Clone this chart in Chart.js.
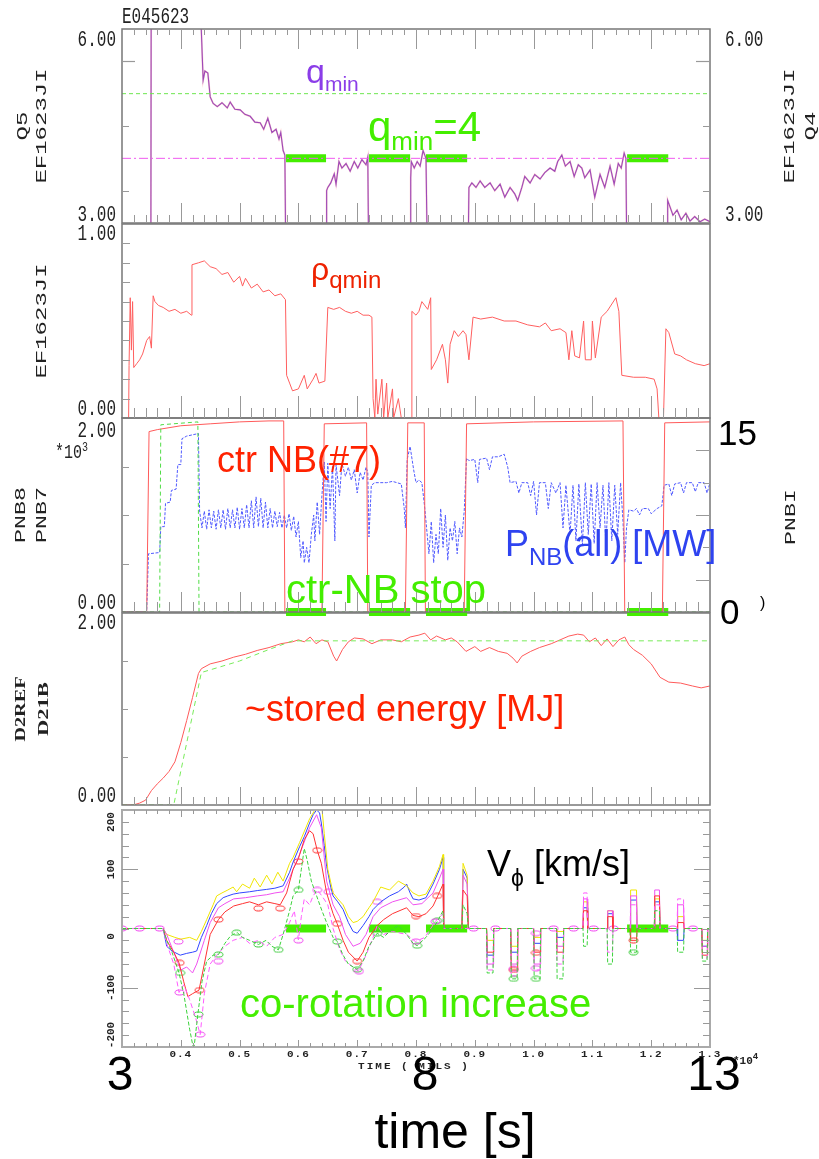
<!DOCTYPE html>
<html>
<head>
<meta charset="utf-8">
<script src="https://cdn.jsdelivr.net/npm/chart.js@4.4.0/dist/chart.umd.min.js"></script>
<style>
  body { margin: 0; background: #fff; }
  #wrap { position: relative; width: 819px; height: 1159px; overflow: hidden; background: #fff; }
  #wrap canvas { position: absolute; left: 0; }
  .lab { position: absolute; white-space: nowrap; font-family: "Liberation Sans", Arial, sans-serif; line-height: 1; }
  .lab span { position: relative; }
  .mono { position: absolute; white-space: nowrap; font-family: "Liberation Mono", monospace; color: #222; line-height: 1; transform-origin: 0 0; }
</style>
</head>
<body>
<div id="wrap">
  <div class="mono" style="left:122px;top:7px;font-size:16px;transform:scaleY(1.35)">E045623</div>
  <div class="mono" style="left:55px;top:444px;font-size:15px;transform:scaleY(1.3)">*10<span style="font-size:10px;position:relative;top:-6px">3</span></div>
  <div class="mono" style="left:733px;top:1056px;font-size:11px;font-weight:bold">*10<span style="font-size:9px;position:relative;top:-5px">4</span></div>

  <div class="lab" style="left:306px;top:54px;font-size:34px;color:#8b3de8">q<span style="font-size:21px;top:8px">min</span></div>
  <div class="lab" style="left:368px;top:106px;font-size:42px;color:#44ee00">q<span style="font-size:26px;top:9px">min</span>=4</div>
  <div class="lab" style="left:311px;top:253px;font-size:32px;color:#ee2200">ρ<span style="font-size:24px;top:8px">qmin</span></div>
  <div class="lab" style="left:217px;top:442px;font-size:36px;color:#ff2200">ctr NB(#7)</div>
  <div class="lab" style="left:286px;top:569px;font-size:40px;color:#44ee00">ctr-NB stop</div>
  <div class="lab" style="left:505px;top:526px;font-size:36px;color:#2e43f0">P<span style="font-size:24px;top:9px">NB</span>(all) [MW]</div>
  <div class="lab" style="left:245px;top:691px;font-size:36px;color:#ff2200">~stored energy [MJ]</div>
  <div class="lab" style="left:487px;top:846px;font-size:36px;color:#000">V<span style="font-size:23px;top:10px">ϕ</span> [km/s]</div>
  <div class="lab" style="left:240px;top:983px;font-size:40px;color:#44ee00">co-rotation increase</div>
</div>
<script>
// time axis [s]
const tMin = 3, tMax = 13;
const secTicks = [3, 8, 13];
const secLabels = ['3', '8', '13'];
const milsTicks = [4, 5, 6, 7, 8, 9, 10, 11, 12, 13];
const milsLabels = ['0.4', '0.5', '0.6', '0.7', '0.8', '0.9', '1.0', '1.1', '1.2', '1.3'];

// ctr-NB stop windows (green bars)
const stopWindows = [[5.79, 6.47], [7.20, 7.90], [8.17, 8.87], [11.59, 12.29]];

// panel 1: q_min
const qRefLevels = [5.0, 4.0];
const qmin = [[3.0,2],[3.49,2],[3.5,9],[4.33,9],[4.34,6.2],[4.38,5.21],[4.41,5.35],[4.46,5.32],[4.5,4.95],[4.55,4.85],
  [4.62,4.8],[4.7,4.86],[4.79,4.78],[4.84,4.87],[4.92,4.76],[5.01,4.75],[5.09,4.68],[5.18,4.65],[5.26,4.56],[5.35,4.55],
  [5.41,4.45],[5.48,4.62],[5.55,4.4],[5.62,4.45],[5.67,4.3],[5.7,4.4],[5.74,4.12],[5.77,4.05],[5.79,2],[6.47,2],
  [6.48,3.5],[6.5,3.55],[6.55,3.62],[6.61,3.76],[6.64,3.6],[6.69,3.95],[6.74,3.85],[6.81,3.92],[6.88,3.8],[6.95,3.95],
  [7.01,3.85],[7.08,3.98],[7.15,3.9],[7.18,4.02],[7.2,2],[7.9,2],[7.91,3.7],[7.92,3.95],[7.97,3.85],[8.02,3.95],
  [8.07,3.88],[8.12,4.12],[8.17,4.0],[8.2,2],[8.88,2],[8.9,3.55],[8.95,3.62],[9.02,3.55],[9.09,3.65],[9.17,3.55],
  [9.26,3.62],[9.34,3.5],[9.43,3.6],[9.51,3.4],[9.6,3.55],[9.68,3.45],[9.73,3.35],[9.8,3.55],[9.85,3.72],[9.94,3.62],
  [10.02,3.75],[10.11,3.68],[10.19,3.78],[10.28,3.85],[10.36,3.8],[10.41,3.95],[10.48,4.05],[10.54,3.88],[10.62,3.95],
  [10.69,3.72],[10.76,3.9],[10.82,3.85],[10.87,3.7],[10.96,3.82],[11.04,3.4],[11.13,3.75],[11.21,3.55],[11.3,3.88],
  [11.37,3.6],[11.44,3.92],[11.49,3.85],[11.54,4.08],[11.57,4.0],[11.59,2],[12.27,2],[12.28,3.35],[12.32,3.25],
  [12.37,3.12],[12.44,3.2],[12.51,3.05],[12.59,3.15],[12.66,3.03],[12.74,3.1],[12.83,3.02],[12.91,3.06],[13.0,3.02]];

// panel 2: rho at q_min
const rhoQmin = [[3.0,-0.1],[3.11,-0.1],[3.12,0.27],[3.14,0.62],[3.16,0.35],[3.18,0.6],[3.2,0.26],[3.25,0.28],[3.3,0.3],
  [3.35,0.33],[3.42,0.4],[3.47,0.42],[3.5,0.36],[3.53,0.63],[3.56,0.6],[3.62,0.58],[3.7,0.57],[3.8,0.55],[3.9,0.56],
  [4.0,0.54],[4.1,0.55],[4.18,0.53],[4.19,0.79],[4.3,0.8],[4.4,0.81],[4.5,0.78],[4.6,0.77],[4.7,0.74],[4.8,0.75],
  [4.9,0.7],[5.0,0.73],[5.05,0.68],[5.1,0.72],[5.2,0.67],[5.3,0.69],[5.4,0.65],[5.5,0.66],[5.6,0.63],[5.7,0.64],
  [5.78,0.61],[5.8,0.22],[5.85,0.18],[5.9,0.14],[6.0,0.15],[6.1,0.22],[6.15,0.15],[6.25,0.2],[6.3,0.23],[6.35,0.18],
  [6.45,0.19],[6.5,0.57],[6.6,0.56],[6.7,0.57],[6.8,0.55],[6.9,0.54],[7.0,0.55],[7.1,0.53],[7.2,0.53],[7.25,0.52],
  [7.27,0.1],[7.3,0.0],[7.32,0.2],[7.35,0.02],[7.42,0.2],[7.45,0.0],[7.5,0.18],[7.52,0.0],[7.6,0.15],[7.62,0.0],
  [7.7,0.1],[7.75,0.0],[7.85,-0.1],[7.92,-0.1],[7.93,0.55],[8.0,0.53],[8.05,0.55],[8.1,0.6],[8.2,0.56],[8.25,0.62],
  [8.26,0.25],[8.35,0.3],[8.45,0.38],[8.5,0.3],[8.54,0.18],[8.58,0.38],[8.65,0.45],[8.72,0.42],[8.8,0.45],[8.85,0.43],
  [8.9,0.3],[8.97,0.52],[9.1,0.51],[9.3,0.52],[9.5,0.5],[9.7,0.5],[9.9,0.48],[10.1,0.47],[10.2,0.49],[10.3,0.45],
  [10.45,0.46],[10.55,0.44],[10.6,0.3],[10.65,0.45],[10.7,0.32],[10.78,0.31],[10.85,0.5],[10.88,0.3],[10.98,0.3],
  [11.0,0.5],[11.05,0.31],[11.15,0.52],[11.25,0.55],[11.4,0.62],[11.45,0.55],[11.5,0.22],[11.7,0.21],[11.9,0.21],
  [12.05,0.2],[12.1,0.15],[12.15,-0.1],[12.2,-0.1],[12.25,0.46],[12.3,0.44],[12.4,0.33],[12.5,0.32],[12.6,0.3],
  [12.75,0.28],[12.9,0.27],[13.0,0.28]];

// panel 3: beam power (PNB7/PNB8 in *1e3, PNBI in MW)
const pnb7 = [[3.0,0],[3.42,0],[3.46,1.86],[3.6,1.88],[4.0,1.92],[4.5,1.94],[5.0,1.96],[5.5,1.97],[5.75,1.97],[5.77,0],
  [6.4,0],[6.44,1.94],[7.16,1.95],[7.18,0],[7.82,0],[7.86,1.95],[8.14,1.95],[8.16,0],[8.82,0],[8.86,1.94],[10.0,1.96],
  [11.52,1.97],[11.55,0],[12.19,0],[12.23,1.95],[13.0,1.96]];
const pnb8 = [[3.0,0],[3.64,0],[3.66,1.93],[4.29,1.96],[4.31,0],[13.0,0]];
const pnbAll = [[3.0,0],[3.42,0],[3.45,4.5],[3.64,4.6],[3.66,6.6],[3.72,6.6],[3.74,8.4],[3.82,8.5],[3.84,9.4],[3.92,9.5],
  [3.95,11.4],[4.0,11.4],[4.02,13.4],[4.1,13.6],[4.3,13.8],[4.32,7.8],[4.36,6.5],[4.4,7.8],[4.44,6.4],[4.48,7.9],
  [4.52,6.5],[4.56,7.8],[4.6,6.4],[4.64,7.9],[4.68,6.5],[4.72,7.9],[4.76,6.4],[4.8,8.0],[4.84,6.5],[4.88,7.9],
  [4.92,6.5],[4.96,8.1],[5.0,6.4],[5.04,8.0],[5.08,6.5],[5.12,8.3],[5.16,6.5],[5.2,8.6],[5.24,6.5],[5.28,8.9],
  [5.32,6.6],[5.36,8.8],[5.4,6.5],[5.44,8.5],[5.48,6.5],[5.52,8.0],[5.56,6.5],[5.6,7.8],[5.64,6.6],[5.68,7.7],
  [5.72,6.5],[5.76,7.5],[5.8,6.5],[5.84,7.6],[5.88,6.3],[5.92,7.4],[5.96,5.8],[6.0,7.0],[6.04,4.2],[6.08,5.5],
  [6.1,3.8],[6.14,5.0],[6.18,3.8],[6.22,6.0],[6.26,7.5],[6.28,5.5],[6.32,8.5],[6.36,6.0],[6.4,9.0],[6.44,11.6],
  [6.47,7.0],[6.5,11.5],[6.54,8.0],[6.58,11.3],[6.62,5.5],[6.64,11.4],[6.7,9.0],[6.74,11.5],[6.8,10.5],[6.85,11.2],
  [6.9,10.2],[6.95,11.0],[7.0,9.2],[7.05,10.8],[7.1,10.2],[7.15,11.2],[7.18,10.8],[7.2,5.8],[7.24,9.8],[7.3,10.0],
  [7.5,10.0],[7.6,10.1],[7.75,9.9],[7.8,8.0],[7.82,6.5],[7.85,11.8],[7.9,12.8],[7.96,11.0],[8.0,10.0],[8.05,10.2],
  [8.1,10.0],[8.15,8.0],[8.18,6.5],[8.22,4.5],[8.26,7.0],[8.3,3.8],[8.34,6.0],[8.38,4.5],[8.42,8.0],[8.46,5.0],
  [8.5,7.5],[8.54,4.0],[8.58,6.5],[8.62,5.5],[8.66,7.0],[8.7,4.5],[8.74,6.5],[8.78,5.8],[8.82,7.8],[8.86,11.9],
  [8.9,11.7],[9.0,11.8],[9.05,10.0],[9.08,11.8],[9.2,11.9],[9.25,11.0],[9.3,12.0],[9.4,12.0],[9.5,12.2],[9.56,11.2],
  [9.6,10.0],[9.7,10.1],[9.75,9.2],[9.8,10.0],[9.9,10.0],[9.95,9.0],[10.0,10.1],[10.05,7.5],[10.1,10.0],[10.2,10.0],
  [10.25,8.0],[10.3,10.0],[10.38,9.2],[10.45,10.0],[10.5,6.5],[10.55,9.8],[10.62,6.0],[10.67,9.8],[10.72,5.5],
  [10.77,9.9],[10.83,5.2],[10.88,10.0],[10.93,6.0],[10.98,9.9],[11.03,5.3],[11.08,10.0],[11.13,6.5],[11.18,9.8],
  [11.23,5.2],[11.28,10.0],[11.33,5.5],[11.38,9.8],[11.43,6.0],[11.48,10.0],[11.52,7.0],[11.55,3.8],[11.58,6.5],
  [11.62,7.9],[11.7,7.8],[11.75,8.0],[11.8,7.5],[11.85,8.0],[11.95,8.0],[12.0,7.6],[12.1,8.0],[12.18,8.2],[12.22,9.8],
  [12.3,9.9],[12.35,9.0],[12.4,9.9],[12.5,10.0],[12.55,9.2],[12.6,10.0],[12.7,10.0],[12.75,9.3],[12.8,10.0],
  [12.9,10.0],[12.95,9.2],[13.0,10.0]];

// panel 4: stored energy [MJ]
const d21b = [[3.0,0],[3.19,0],[3.3,0.02],[3.4,0.05],[3.5,0.15],[3.6,0.22],[3.7,0.28],[3.8,0.35],[3.9,0.45],[4.0,0.65],
  [4.1,0.88],[4.2,1.12],[4.3,1.37],[4.35,1.42],[4.5,1.47],[4.7,1.5],[4.9,1.54],[5.1,1.57],[5.3,1.61],[5.5,1.64],
  [5.7,1.68],[5.9,1.7],[6.0,1.72],[6.1,1.7],[6.2,1.75],[6.3,1.68],[6.4,1.72],[6.5,1.7],[6.6,1.55],[6.65,1.5],
  [6.75,1.62],[6.85,1.7],[6.95,1.74],[7.1,1.73],[7.25,1.68],[7.4,1.72],[7.6,1.72],[7.75,1.7],[7.9,1.75],[8.05,1.77],
  [8.15,1.79],[8.25,1.72],[8.35,1.76],[8.5,1.72],[8.6,1.74],[8.7,1.7],[8.85,1.6],[9.0,1.65],[9.1,1.6],[9.25,1.64],
  [9.4,1.6],[9.55,1.58],[9.65,1.53],[9.72,1.48],[9.8,1.55],[9.95,1.6],[10.1,1.64],[10.3,1.68],[10.45,1.72],
  [10.6,1.76],[10.75,1.78],[10.85,1.77],[10.95,1.7],[11.05,1.74],[11.15,1.66],[11.25,1.73],[11.35,1.65],[11.45,1.72],
  [11.55,1.75],[11.62,1.67],[11.7,1.62],[11.85,1.56],[12.0,1.47],[12.15,1.33],[12.3,1.28],[12.5,1.27],[12.7,1.24],
  [12.85,1.22],[13.0,1.24]];
const d2ref = [[3.0,0],[3.88,0],[4.35,1.38],[5.0,1.5],[5.5,1.62],[5.9,1.71],[13.0,1.71]];

// panel 5: toroidal rotation [km/s], six chords
const vBlue = [[3.0,0],[3.7,0],[3.76,-30],[3.85,-38],[3.99,-45],[4.1,-42],[4.2,-40],[4.27,-38],[4.35,-15],[4.44,5],
  [4.52,25],[4.61,42],[4.72,52],[4.8,55],[4.89,58],[5.0,60],[5.17,62],[5.3,64],[5.46,66],[5.6,68],[5.74,72],[5.85,95],
  [5.91,112],[6.02,138],[6.1,155],[6.19,178],[6.25,192],[6.31,200],[6.36,195],[6.39,178],[6.44,140],[6.48,105],
  [6.55,70],[6.59,55],[6.67,45],[6.76,32],[6.85,10],[6.93,-5],[7.0,-8],[7.1,5],[7.2,20],[7.27,32],[7.4,45],[7.55,55],
  [7.7,62],[7.8,70],[7.84,75],[7.9,60],[7.95,50],[8.05,48],[8.17,52],[8.29,75],[8.4,100],[8.46,120],[8.47,0],[8.78,0],
  [8.8,100],[8.87,85],[8.89,0]];
const vYellow = [[3.0,0],[3.7,0],[3.76,-10],[3.9,-15],[4.0,-18],[4.15,-15],[4.27,-20],[4.35,-5],[4.44,15],[4.55,40],
  [4.61,55],[4.7,60],[4.8,65],[4.89,70],[4.95,62],[5.05,75],[5.17,68],[5.25,85],[5.35,70],[5.46,90],[5.55,75],
  [5.65,95],[5.74,80],[5.85,110],[5.91,120],[6.02,145],[6.19,185],[6.31,205],[6.39,215],[6.44,160],[6.5,100],[6.59,60],
  [6.67,50],[6.76,40],[6.85,20],[6.93,10],[7.0,12],[7.1,20],[7.2,35],[7.27,45],[7.4,70],[7.55,65],[7.7,80],[7.84,72],
  [7.95,60],[8.05,55],[8.17,58],[8.29,80],[8.4,105],[8.46,125],[8.47,0],[8.78,0],[8.8,110],[8.87,90],[8.89,0]];
const vRed = [[3.0,0],[3.7,0],[3.76,-20],[3.88,-40],[3.97,-58],[4.05,-90],[4.12,-115],[4.2,-110],[4.31,-104],[4.4,-60],
  [4.5,-10],[4.64,15],[4.75,28],[4.9,38],[5.05,42],[5.17,45],[5.32,40],[5.46,45],[5.6,42],[5.69,40],[5.8,60],[5.91,100],
  [6.0,118],[6.1,150],[6.19,165],[6.25,160],[6.32,132],[6.39,110],[6.48,60],[6.59,25],[6.66,8],[6.76,-20],[6.85,-40],
  [7.0,-55],[7.1,-40],[7.2,-15],[7.34,5],[7.45,15],[7.6,25],[7.84,35],[7.95,22],[8.05,20],[8.17,25],[8.29,38],
  [8.37,55],[8.46,75],[8.47,0],[8.78,0],[8.8,65],[8.87,55],[8.89,0]];
const vMagenta = [[3.0,0],[3.7,0],[3.76,-10],[3.9,-45],[4.0,-70],[4.1,-65],[4.2,-75],[4.27,-60],[4.4,-20],[4.5,10],
  [4.64,35],[4.75,42],[4.9,50],[5.1,52],[5.3,55],[5.46,57],[5.6,60],[5.74,62],[5.85,85],[5.91,100],[6.02,125],
  [6.19,170],[6.31,192],[6.39,170],[6.44,120],[6.48,80],[6.59,40],[6.7,20],[6.8,-10],[6.93,-30],[7.05,-25],[7.15,-10],
  [7.27,20],[7.4,35],[7.6,45],[7.84,52],[7.95,40],[8.1,42],[8.29,60],[8.4,85],[8.46,100],[8.47,0],[8.78,0],[8.8,90],
  [8.87,75],[8.89,0]];
const vGreen = [[3.0,0],[3.7,0],[3.76,-20],[3.85,-40],[3.97,-75],[4.05,-110],[4.15,-170],[4.22,-205],[4.29,-145],
  [4.36,-90],[4.44,-55],[4.55,-45],[4.64,-44],[4.75,-25],[4.85,-12],[4.96,-7],[5.05,-15],[5.17,-20],[5.32,-27],
  [5.45,-20],[5.55,-30],[5.66,-36],[5.74,-10],[5.85,30],[5.91,55],[6.0,65],[6.05,100],[6.1,135],[6.15,115],[6.22,80],
  [6.31,55],[6.4,30],[6.48,10],[6.59,-15],[6.66,-22],[6.76,-45],[6.85,-60],[7.0,-69],[7.1,-55],[7.2,-30],[7.34,-8],
  [7.45,-15],[7.55,-5],[7.7,5],[7.84,-10],[7.95,-25],[8.02,-29],[8.17,-15],[8.29,0],[8.37,13],[8.46,30],[8.47,0],
  [8.78,0],[8.8,40],[8.87,25],[8.89,0]];
const vPink = [[3.0,0],[3.7,0],[3.76,-25],[3.88,-60],[3.97,-108],[4.05,-95],[4.15,-120],[4.25,-150],[4.33,-179],
  [4.4,-110],[4.5,-60],[4.61,-45],[4.75,-30],[4.89,-20],[5.05,-15],[5.17,-25],[5.32,-20],[5.46,-30],[5.6,-15],
  [5.74,-10],[5.85,10],[5.93,30],[6.0,-19],[6.05,20],[6.1,50],[6.19,40],[6.25,55],[6.32,65],[6.4,55],[6.5,40],[6.59,0],
  [6.7,-35],[6.8,-55],[7.02,-72],[7.15,-45],[7.27,-15],[7.34,5],[7.45,-10],[7.6,-5],[7.84,-10],[7.99,-22],[8.15,-15],
  [8.33,12],[8.46,25],[8.47,0],[8.89,0]];

// late short rotation samples (start, end) and level per chord
const vSpikeT = [[9.20,9.32],[9.61,9.73],[10.0,10.12],[10.39,10.51],[10.84,10.92],[11.25,11.35],[11.64,11.76],[12.05,12.15],[12.44,12.56],[12.86,12.96]];
const vSpikeBlue = [-45, -40, -25, -15, 35, 25, 48, 45, -20, -30];
const vSpikeYellow = [-20, -30, -15, -5, 45, 30, 65, 50, 20, -20];
const vSpikeRed = [-40, -70, -40, -40, 30, 20, -20, 55, 10, -45];
const vSpikeMagenta = [-60, -60, -60, -30, 50, 30, 55, 65, 40, -30];
const vSpikeGreen = [-75, -85, -85, -85, -30, -60, -40, 30, -40, -55];
const vSpikePink = [-70, -80, -70, -60, 60, -40, 40, 40, 50, -50];

// circle markers on chords
const markMagenta = [[3.0,0],[3.3,0],[3.64,0],[3.96,-22],[3.98,-108],[4.33,-179],[4.64,-55],[6.0,-20],[6.32,65],[6.51,62],
  [7.03,-72],[7.34,45],[8.0,-22],[8.33,12],[8.98,0],[9.35,0],[9.66,-68],[10.04,-8],[10.04,-67],[10.34,0],[10.68,0],
  [11.02,0],[11.36,0],[12.37,0],[12.71,0]];
const markRed = [[3.98,-58],[4.32,-104],[4.64,15],[5.32,34],[5.69,34],[6.0,113],[6.32,132],[6.66,8],[7.0,-55],[8.0,21],
  [8.36,55],[9.66,-70],[10.04,-41],[11.7,-20]];
const markGreen = [[3.99,-75],[4.3,-145],[4.64,-44],[4.95,-7],[5.32,-27],[5.66,-36],[6.0,65],[6.66,-22],[7.0,-69],
  [7.34,-8],[8.02,-29],[8.36,13],[9.66,-85],[10.04,-85],[11.7,-40]];

const INK = '#222';
const wrap = document.getElementById('wrap');

function xy(pairs) { return pairs.map(([x, y]) => ({ x, y })); }
function withSpikes(pairs, levels) {
  const out = xy(pairs);
  vSpikeT.forEach(([a, b], i) => {
    out.push({ x: a, y: 0 }, { x: a + 0.01, y: levels[i] }, { x: b - 0.01, y: levels[i] }, { x: b, y: 0 });
  });
  out.push({ x: tMax, y: 0 });
  return out;
}
function bars(level) {
  const out = [];
  stopWindows.forEach(([a, b]) => out.push({ x: a, y: level }, { x: b, y: level }, { x: b + 0.001, y: null }));
  return out;
}
function hline(v) { return [{ x: tMin, y: v }, { x: tMax, y: v }]; }
function ellipse(color) {
  const c = document.createElement('canvas');
  c.width = 11; c.height = 7;
  const g = c.getContext('2d');
  g.strokeStyle = color; g.lineWidth = 1;
  g.beginPath(); g.ellipse(5.5, 3.5, 4.5, 2.5, 0, 0, Math.PI * 2); g.stroke();
  return c;
}

function line(data, color, extra) {
  return Object.assign({ data, borderColor: color, borderWidth: 1, pointRadius: 0, tension: 0 }, extra || {});
}
function barSet(level, yAxisID) {
  return { data: bars(level), yAxisID: yAxisID || 'y', borderColor: 'rgb(68,238,0)', borderWidth: 8, pointRadius: 0, borderCapStyle: 'butt', spanGaps: false, clip: false };
}
function marks(pairs, color) {
  return { data: xy(pairs), showLine: false, pointStyle: ellipse(color), pointRadius: 5, borderColor: color };
}

// drawing helpers for the frame, inward ticks and text
function frame(ctx, a, col, w) {
  ctx.strokeStyle = col; ctx.lineWidth = w;
  ctx.strokeRect(a.left, a.top, a.right - a.left, a.bottom - a.top);
}
function xTicks(ch, ctx, edge, minor, major) {
  const a = ch.chartArea, sx = ch.scales.x;
  ctx.strokeStyle = '#999'; ctx.lineWidth = 1;
  ctx.beginPath();
  for (let k = 1; k < 50; k++) {
    const px = Math.round(sx.getPixelForValue(tMin + k * 0.2)) + 0.5;
    const len = k % 5 === 0 ? major : minor;
    const y0 = edge === 'top' ? a.top : a.bottom;
    ctx.moveTo(px, y0); ctx.lineTo(px, edge === 'top' ? y0 + len : y0 - len);
  }
  ctx.stroke();
}
function yTicks(ch, ctx, id, vals, side, len) {
  const a = ch.chartArea, s = ch.scales[id];
  ctx.strokeStyle = '#999'; ctx.lineWidth = 1.2;
  ctx.beginPath();
  vals.forEach(v => {
    const py = Math.round(s.getPixelForValue(v)) + 0.5;
    const x0 = side === 'l' ? a.left : a.right;
    ctx.moveTo(x0, py); ctx.lineTo(side === 'l' ? x0 + len : x0 - len, py);
  });
  ctx.stroke();
}
function mono(ctx, s, x, y, align, opt) {
  const o = opt || {};
  ctx.save();
  ctx.translate(x, y); ctx.scale(1, o.sy || 1.4);
  ctx.font = o.font || '16px "Liberation Mono"';
  ctx.fillStyle = INK; ctx.textAlign = align; ctx.textBaseline = 'middle';
  if (o.ls) ctx.letterSpacing = o.ls;
  ctx.fillText(s, 0, 0);
  ctx.restore();
}
function vtext(ctx, s, x, y, font, stretch) {
  ctx.save();
  ctx.translate(x, y); ctx.rotate(-Math.PI / 2); ctx.scale(stretch, 1);
  ctx.font = font; ctx.fillStyle = INK; ctx.textAlign = 'center'; ctx.textBaseline = 'middle';
  ctx.fillText(s, 0, 0);
  ctx.restore();
}
function sans(ctx, s, x, y, size, align) {
  ctx.save();
  ctx.font = size + 'px "Liberation Sans"'; ctx.fillStyle = '#000';
  ctx.textAlign = align; ctx.textBaseline = 'alphabetic';
  ctx.fillText(s, x, y);
  ctx.restore();
}
const MONO_T = '15px "Liberation Mono"';

function panel(top, bottom, padB, yScales, datasets, draw) {
  const padT = 30;
  const cv = document.createElement('canvas');
  cv.width = 819; cv.height = bottom - top + padT + padB;
  cv.style.top = (top - padT) + 'px';
  wrap.insertBefore(cv, wrap.children[0]);
  const scales = { x: { type: 'linear', min: tMin, max: tMax, display: false } };
  Object.keys(yScales).forEach(id => {
    scales[id] = { type: 'linear', min: yScales[id][0], max: yScales[id][1], display: false };
  });
  new Chart(cv, {
    type: 'line',
    data: { datasets },
    options: {
      responsive: false, animation: false, events: [],
      layout: { padding: { left: 122, right: 109, top: padT, bottom: padB } },
      plugins: { legend: { display: false }, tooltip: { enabled: false } },
      scales
    },
    plugins: [{ id: 'deco', afterDatasetsDraw(ch) { const c = ch.ctx; c.save(); draw(ch, c, ch.chartArea); c.restore(); } }]
  });
}

// panel 1: q_min
panel(29, 223, 30, { y: [3, 6] }, [
  line(hline(qRefLevels[0]), 'rgb(110,230,80)', { borderDash: [4, 3] }),
  line(hline(qRefLevels[1]), 'rgb(240,90,240)', { borderDash: [9, 3, 2, 3] }),
  line(xy(qmin), 'rgba(255,110,110,0.35)', { borderWidth: 1.8 }),
  line(xy(qmin), 'rgb(105,55,225)', { borderWidth: 1.1 }),
  barSet(4.0)
], (ch, ctx, a) => {
  const sy = ch.scales.y, mid = (a.top + a.bottom) / 2;
  frame(ctx, a, '#777', 1.5);
  xTicks(ch, ctx, 'top', 6, 20);
  xTicks(ch, ctx, 'bottom', 8, 20);
  yTicks(ch, ctx, 'y', [5.5], 'l', 13); yTicks(ch, ctx, 'y', [3.5, 4.5], 'l', 7);
  yTicks(ch, ctx, 'y', [5.5], 'r', 14); yTicks(ch, ctx, 'y', [3.5, 4.5], 'r', 7);
  mono(ctx, '6.00', a.left - 6, sy.getPixelForValue(6) + 11, 'right');
  mono(ctx, '3.00', a.left - 6, sy.getPixelForValue(3) - 8, 'right');
  mono(ctx, '6.00', a.right + 15, sy.getPixelForValue(6) + 11, 'left');
  mono(ctx, '3.00', a.right + 15, sy.getPixelForValue(3) - 8, 'left');
  vtext(ctx, 'Q5', 23, mid, MONO_T, 1.6);
  vtext(ctx, 'EF1623JI', 42, mid, MONO_T, 1.6);
  vtext(ctx, 'EF1623JI', 790, mid, MONO_T, 1.6);
  vtext(ctx, 'Q4', 811, mid, MONO_T, 1.6);
});

// panel 2: rho(q_min)
panel(224, 418, 30, { y: [0, 1] }, [
  line(xy(rhoQmin), 'rgb(255,95,95)')
], (ch, ctx, a) => {
  const sy = ch.scales.y;
  frame(ctx, a, '#777', 1.5);
  xTicks(ch, ctx, 'bottom', 10, 22);
  yTicks(ch, ctx, 'y', [0.1, 0.2, 0.3, 0.4, 0.5, 0.6, 0.7, 0.8, 0.9], 'l', 8);
  mono(ctx, '1.00', a.left - 6, sy.getPixelForValue(1) + 10, 'right');
  mono(ctx, '0.00', a.left - 6, sy.getPixelForValue(0) - 9, 'right');
  vtext(ctx, 'EF1623JI', 42, (a.top + a.bottom) / 2, MONO_T, 1.6);
});

// panel 3: NBI power
panel(418, 612, 30, { y: [0, 2], y2: [0, 15] }, [
  line(xy(pnb8), 'rgb(80,220,70)', { borderDash: [4, 3] }),
  line(xy(pnb7), 'rgb(255,90,90)'),
  line(xy(pnbAll), 'rgb(80,90,255)', { yAxisID: 'y2', borderDash: [3, 1.5] }),
  barSet(0)
], (ch, ctx, a) => {
  const sy = ch.scales.y, s2 = ch.scales.y2, mid = (a.top + a.bottom) / 2;
  frame(ctx, a, '#777', 1.5);
  xTicks(ch, ctx, 'bottom', 10, 20);
  yTicks(ch, ctx, 'y', [0.5, 1, 1.5], 'l', 7);
  yTicks(ch, ctx, 'y2', [2.5, 7.5, 12.5], 'r', 14); yTicks(ch, ctx, 'y2', [5, 10], 'r', 7);
  mono(ctx, '2.00', a.left - 6, sy.getPixelForValue(2) + 13, 'right');
  mono(ctx, '0.00', a.left - 6, sy.getPixelForValue(0) - 9, 'right');
  sans(ctx, '15', a.right + 8, s2.getPixelForValue(15) + 27, 35, 'left');
  sans(ctx, '0', a.right + 10, s2.getPixelForValue(0) + 12, 35, 'left');
  sans(ctx, ')', a.right + 50, s2.getPixelForValue(0) - 4, 16, 'left');
  vtext(ctx, 'PNB8', 21, mid, MONO_T, 1.55);
  vtext(ctx, 'PNB7', 42, mid, MONO_T, 1.55);
  vtext(ctx, 'PNBI', 791, mid + 2, MONO_T, 1.55);
});

// panel 4: stored energy
panel(613, 805, 30, { y: [0, 2] }, [
  line(xy(d2ref), 'rgb(120,235,90)', { borderDash: [5, 4] }),
  line(xy(d21b), 'rgb(255,90,90)')
], (ch, ctx, a) => {
  const sy = ch.scales.y, mid = (a.top + a.bottom) / 2;
  frame(ctx, a, '#777', 1.5);
  xTicks(ch, ctx, 'bottom', 8, 18);
  yTicks(ch, ctx, 'y', [0.5, 1, 1.5], 'l', 6);
  mono(ctx, '2.00', a.left - 6, sy.getPixelForValue(2) + 10, 'right');
  mono(ctx, '0.00', a.left - 6, sy.getPixelForValue(0) - 9, 'right');
  vtext(ctx, 'D2REF', 21, mid, 'bold 15px "Liberation Serif"', 1.35);
  vtext(ctx, 'D21B', 44, mid, 'bold 15px "Liberation Serif"', 1.5);
});

// panel 5: toroidal rotation
panel(810, 1047, 112, { y: [-200, 200] }, [
  line(withSpikes(vGreen, vSpikeGreen), 'rgb(60,210,60)', { borderDash: [4, 2] }),
  line(withSpikes(vPink, vSpikePink), 'rgb(255,90,255)', { borderDash: [5, 3] }),
  line(withSpikes(vRed, vSpikeRed), 'rgb(255,50,50)'),
  line(withSpikes(vMagenta, vSpikeMagenta), 'rgb(240,80,240)'),
  line(withSpikes(vYellow, vSpikeYellow), 'rgb(240,230,0)'),
  line(withSpikes(vBlue, vSpikeBlue), 'rgb(50,70,255)'),
  marks(markMagenta, 'rgb(240,60,240)'),
  marks(markRed, 'rgb(255,40,40)'),
  marks(markGreen, 'rgb(50,200,50)'),
  barSet(0)
], (ch, ctx, a) => {
  const sy = ch.scales.y, sx = ch.scales.x;
  frame(ctx, a, '#aaa', 2);
  xTicks(ch, ctx, 'top', 4, 7);
  xTicks(ch, ctx, 'bottom', 4, 7);
  const minorV = [-180, -160, -140, -120, -80, -60, -40, -20, 0, 20, 40, 60, 80, 120, 140, 160, 180];
  yTicks(ch, ctx, 'y', minorV, 'l', 7); yTicks(ch, ctx, 'y', [-100, 100], 'l', 16);
  yTicks(ch, ctx, 'y', minorV, 'r', 7); yTicks(ch, ctx, 'y', [-100, 100], 'r', 16);
  const small = 'bold 10px "Liberation Mono"';
  vtext(ctx, '200', 111, sy.getPixelForValue(200) + 12, small, 1.1);
  vtext(ctx, '100', 111, sy.getPixelForValue(100), small, 1.1);
  vtext(ctx, '0', 111, sy.getPixelForValue(0) + 8, small, 1.1);
  vtext(ctx, '-100', 111, sy.getPixelForValue(-100), small, 1.1);
  vtext(ctx, '-200', 111, sy.getPixelForValue(-200) - 12, small, 1.1);
  milsTicks.forEach((t, i) => {
    mono(ctx, milsLabels[i], sx.getPixelForValue(t), a.bottom + 8, 'center', { font: 'bold 11px "Liberation Mono"', sy: 0.8, ls: '1px' });
  });
  mono(ctx, 'TIME ( MILS )', sx.getPixelForValue(8) - 2, a.bottom + 20, 'center', { font: 'bold 11px "Liberation Mono"', sy: 0.8, ls: '2px' });
  const secOff = [-2, 9, 4];
  secTicks.forEach((t, i) => {
    sans(ctx, secLabels[i], sx.getPixelForValue(t) + secOff[i], a.bottom + 43, 48, 'center');
  });
  sans(ctx, 'time [s]', 455, a.bottom + 101, 50, 'center');
});
</script>
</body>
</html>
